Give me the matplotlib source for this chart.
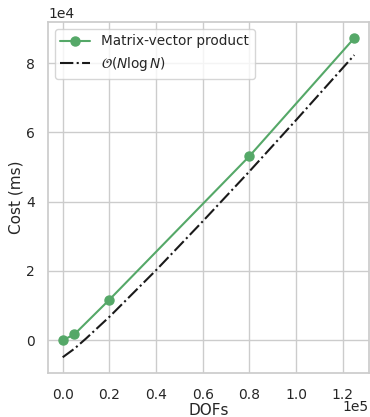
import matplotlib
matplotlib.use("Agg")
import matplotlib.pyplot as plt
import seaborn as sns

# values
dofs = [0, 5000, 20000, 80000, 125000]
cost = [0, 1700, 11700, 53100, 87200]

ref_dofs = [0, 5000, 10000, 20000, 40000, 60000, 80000, 100000, 125000]
ref_cost = [-4900, -2450, 500, 6750, 20200, 34300, 48700, 63500, 82300]

sns.set_theme(style="whitegrid", color_codes=True)
plt.rcParams['font.family'] = ['DejaVu Sans']

fig = plt.figure(figsize=(3.7, 4.17), dpi=100)
ax = fig.add_subplot(111)
ax.plot(dofs, cost, "g-o", markersize=6.5, linewidth=1.5, label="Matrix-vector product")
ax.plot(ref_dofs, ref_cost, "k-.", linewidth=1.5, label=r"$\mathcal{O}(N \log N)$")

ax.set_xlabel("DOFs", fontsize=11, labelpad=1)
ax.set_ylabel("Cost (ms)", fontsize=11, labelpad=2)
ax.tick_params(labelsize=10)
ax.tick_params(axis="x", pad=4.5)
ax.ticklabel_format(style="sci", axis="both", scilimits=(0, 0))
ax.yaxis.get_offset_text().set_fontsize(10)
ax.xaxis.get_offset_text().set_visible(False)
ax.text(1.0, -0.096, "1e5", transform=ax.transAxes, ha="right", va="center", fontsize=10)
ax.set_xticks([0, 20000, 40000, 60000, 80000, 100000, 120000])
ax.legend(loc="upper left", fontsize=9.8, handlelength=2.2)

fig.subplots_adjust(left=0.13, right=0.997, bottom=0.105, top=0.947)
fig.savefig("out.png", dpi=100)
